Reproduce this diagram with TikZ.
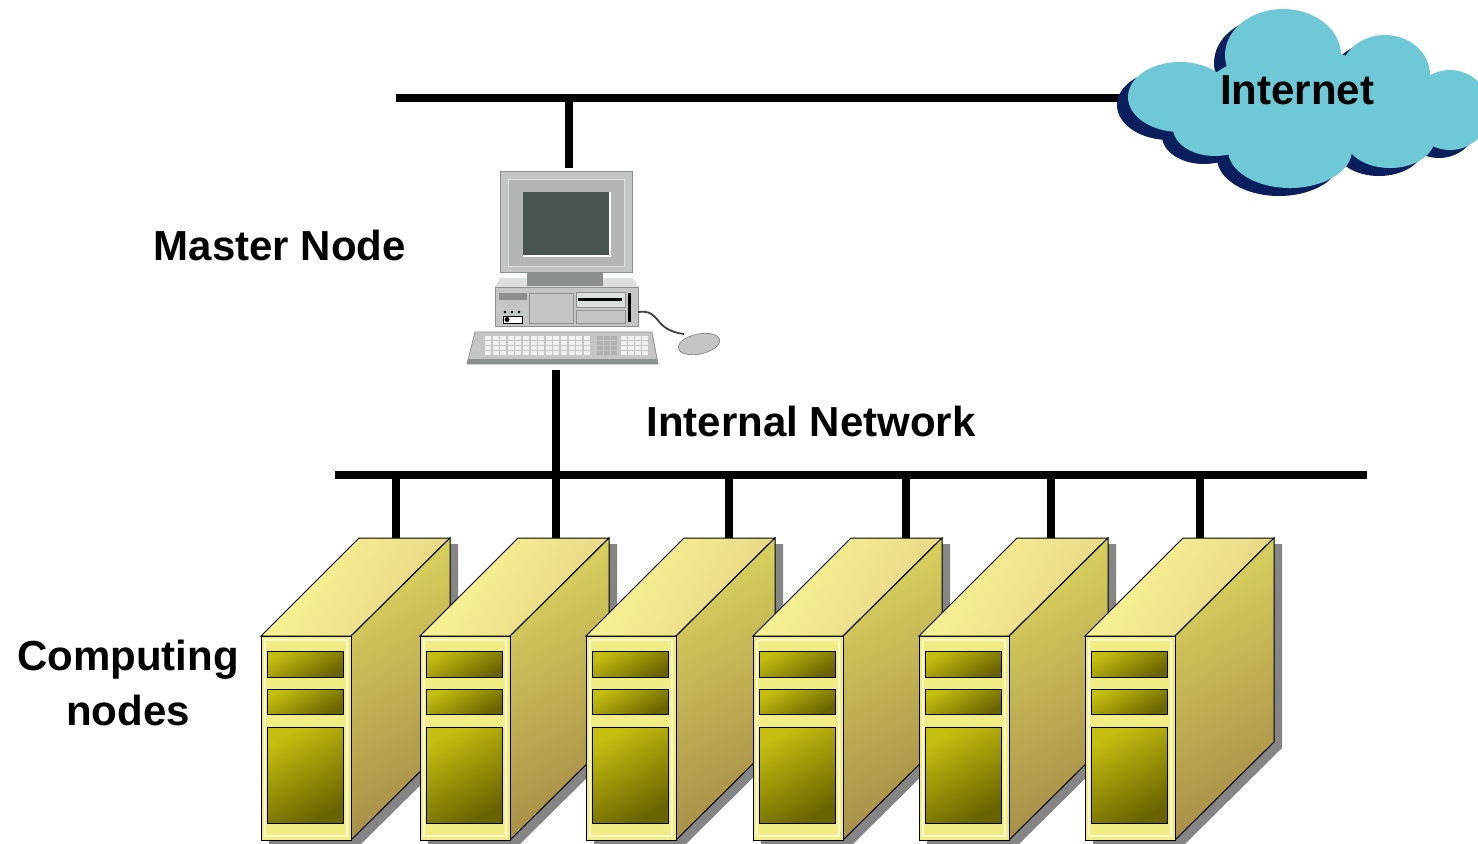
\documentclass[tikz,border=0pt]{standalone}
\usepackage{fontspec}
\setmainfont{Liberation Sans}
\definecolor{cloudfill}{HTML}{6EC8D6}
\definecolor{cloudshadow}{HTML}{0B1F5C}
\definecolor{cgray}{HTML}{C2C6C6}
\definecolor{cgrayl}{HTML}{DCDFDF}
\definecolor{cgrayd}{HTML}{8A9090}
\definecolor{screenc}{HTML}{4A5452}
\definecolor{keyc}{HTML}{F0F0F0}
\definecolor{frontc}{HTML}{F2EC84}
\definecolor{topc}{HTML}{FBF796}
\definecolor{topc2}{HTML}{E6D486}
\definecolor{sidec}{HTML}{D8D25E}
\definecolor{sidec2}{HTML}{A88E48}
\definecolor{panelc}{HTML}{C4BE10}
\definecolor{panelc2}{HTML}{6A6400}
\definecolor{shadowc}{HTML}{858585}
\tikzset{
  bus/.style={line width=4pt, black},
  lbl/.style={font=\bfseries\fontsize{21}{27.5}\selectfont, text=black, inner sep=0pt},
  edge/.style={draw=black, line width=0.5pt},
}
\newcommand{\serverbox}[1]{%
  \begin{scope}[shift={(#1,0)}]
    \fill[shadowc] (8,-642)--(106,-544)--(197,-544)--(197,-748)--(98,-846)--(8,-846)--cycle;
    \path[edge, left color=topc, right color=topc2, shading angle=60] (0,-636)--(98,-538)--(189,-538)--(90,-636)--cycle;
    \path[edge, top color=sidec, bottom color=sidec2, shading angle=30] (90,-636)--(189,-538)--(189,-742)--(90,-840)--cycle;
    \path[edge, fill=frontc] (0,-636) rectangle (90,-840);
    \draw[white!60!frontc, line width=0.8pt] (4,-640) rectangle (86,-836);
    \path[edge, top color=panelc, bottom color=panelc2, shading angle=30] (6,-651) rectangle (82,-677);
    \path[edge, top color=panelc, bottom color=panelc2, shading angle=30] (6,-689) rectangle (82,-714);
    \path[edge, top color=panelc, bottom color=panelc2, shading angle=30] (6,-727) rectangle (82,-823);
  \end{scope}}
\newcommand{\cloudlobes}[1]{%
  \fill[#1] (1180,-97) ellipse [x radius=52, y radius=35];
  \fill[#1] (1283,-55) ellipse [x radius=58, y radius=46];
  \fill[#1] (1385,-75) ellipse [x radius=45, y radius=40];
  \fill[#1] (1450,-110) ellipse [x radius=40, y radius=40];
  \fill[#1] (1405,-108) ellipse [x radius=38, y radius=32];
  \fill[#1] (1390,-138) ellipse [x radius=45, y radius=30];
  \fill[#1] (1290,-150) ellipse [x radius=62, y radius=38];
  \fill[#1] (1215,-128) ellipse [x radius=42, y radius=28];
  \fill[#1] (1300,-100) ellipse [x radius=100, y radius=50];}
\begin{document}
\begin{tikzpicture}[x=0.5pt,y=0.5pt]
\useasboundingbox (0,0) rectangle (1478,-843);
\fill[white] (0,0) rectangle (1478,-843);

% coordinates
\coordinate (tbw) at (396,-98);
\coordinate (tbe) at (1140,-98);
\coordinate (pctop) at (569,-168);
\coordinate (pcbot) at (556,-370);
\coordinate (ibw) at (335,-475);
\coordinate (ibe) at (1367,-475);
\coordinate (s1) at (396,-538);
\coordinate (s2) at (556,-538);
\coordinate (s3) at (729,-538);
\coordinate (s4) at (906,-538);
\coordinate (s5) at (1051,-538);
\coordinate (s6) at (1200,-538);

% top bus
\draw[bus] (tbw) -- (tbe);
\draw[bus] (pctop |- tbw) -- (pctop);

% cloud
\begin{scope}[shift={(-11,-8)}]
  \cloudlobes{cloudshadow}
\end{scope}
\cloudlobes{cloudfill}
\node[lbl] (inet) at (1297,-90) {Internet};

% computer: monitor
\fill[cgrayl] (500,-278) -- (633,-278) -- (638,-287) -- (495,-287) -- cycle;
\fill[cgrayd] (527,-268) rectangle (603,-286);
\filldraw[fill=cgray, draw=cgrayd] (500,-171) rectangle (632,-272);
\filldraw[fill=cgray!92!black, draw=cgrayl] (508,-179) rectangle (624,-266);
\fill[screenc] (523,-192) rectangle (610,-256);
\draw[white, line width=0.6pt] (523,-256) -- (610,-256) -- (610,-192);
% base
\filldraw[fill=cgray, draw=cgrayd] (495,-287) rectangle (638,-326);
\fill[cgrayd] (499,-293) rectangle (527,-300);
\filldraw[fill=cgray, draw=cgrayd] (529,-293) rectangle (573,-323);
\filldraw[fill=cgrayl, draw=cgrayd] (576,-292) rectangle (625,-307);
\fill[black] (578,-298) rectangle (622,-300.5);
\filldraw[fill=cgray, draw=cgrayd] (576,-310) rectangle (625,-323);
\fill[black] (628,-293) rectangle (630.5,-322);
\fill[black] (505,-312) circle (1.4) (512,-312) circle (1.4) (519,-312) circle (1.4);
\filldraw[fill=white, draw=black] (503,-316) rectangle (522,-323);
\fill[black] (507,-319.5) circle (2.5);
% cord and mouse
\draw[black!75, line width=0.9pt] (638,-312) .. controls (662,-309) and (652,-330) .. (684,-334);
\filldraw[fill=cgray, draw=cgrayd, rotate around={12:(699,-344)}] (699,-344) ellipse [x radius=21, y radius=10];
% keyboard
\filldraw[fill=cgray, draw=cgrayd] (475,-332) -- (652,-332) -- (658,-364) -- (467,-364) -- cycle;
\fill[cgrayd] (468,-359) rectangle (657,-364);
\foreach \r in {0,...,3}
  \foreach \c in {0,...,13}
    \fill[keyc] ({485+\c*7.6},{-336-\r*5}) rectangle ++(6,-3.8);
\foreach \r in {0,...,3}
  \foreach \c in {0,1,2}
    \fill[cgrayd!70] ({597+\c*7},{-336-\r*5}) rectangle ++(5.5,-3.8);
\foreach \r in {0,...,3}
  \foreach \c in {0,...,3}
    \fill[keyc] ({621+\c*7},{-336-\r*5}) rectangle ++(5.5,-3.8);

\node[lbl] (master) at (280,-245) {Master Node};
\node[lbl] (inn) at (811,-421) {Internal Network};
\node[lbl, align=center] (comp) at (128,-683) {Computing\\nodes};

% internal bus
\draw[bus] (pcbot) -- (pcbot |- ibw);
\draw[bus] (ibw) -- (ibe);
\foreach \s in {s1,s2,s3,s4,s5,s6}
  \draw[bus] (\s |- ibw) -- (\s);

% servers
\serverbox{261}
\serverbox{420}
\serverbox{586}
\serverbox{753}
\serverbox{919}
\serverbox{1085}
\end{tikzpicture}
\end{document}
